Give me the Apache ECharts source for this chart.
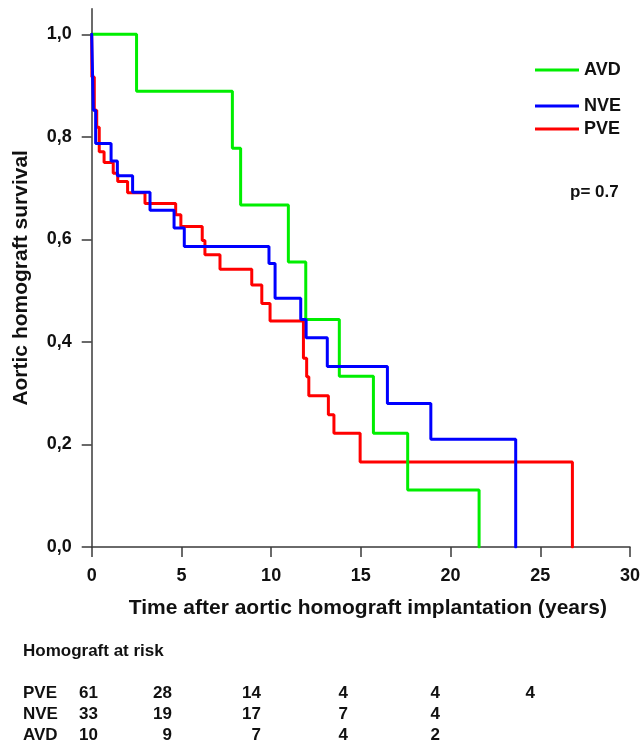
<!DOCTYPE html>
<html>
<head>
<meta charset="utf-8">
<script src="https://cdn.jsdelivr.net/npm/echarts@6/dist/echarts.min.js"></script>
<style>
  html, body { margin: 0; padding: 0; background: #fff; }
  #chart { width: 642px; height: 745px; }
</style>
</head>
<body>
<div id="chart"></div>
<script>
// Kaplan-Meier survival of aortic homografts by indication group
const seriesNames = ['AVD', 'NVE', 'PVE'];

const avdTimes = [0, 2.5, 7.84, 8.3, 10.96, 11.93, 13.8, 15.7, 17.61, 21.59];
const avdSurv  = [1, 0.889, 0.778, 0.667, 0.556, 0.444, 0.333, 0.222, 0.111, 0];

const nveTimes = [0, 0.09, 0.22, 1.08, 1.43, 2.28, 3.25, 4.59, 5.16, 9.88, 10.22, 11.65, 11.95, 13.13, 16.48, 18.9, 23.63];
const nveSurv  = [1, 0.852, 0.787, 0.753, 0.724, 0.692, 0.657, 0.622, 0.586, 0.553, 0.485, 0.444, 0.408, 0.352, 0.280, 0.210, 0];

const pveTimes = [0, 0.01, 0.145, 0.28, 0.42, 0.69, 1.2, 1.45, 2.0, 2.97, 4.68, 4.97, 6.16, 6.31, 7.15, 8.92, 9.48, 9.94, 11.8, 11.98, 12.1, 13.19, 13.5, 14.96, 26.79];
const pveSurv  = [1, 0.917, 0.852, 0.819, 0.771, 0.75, 0.729, 0.713, 0.691, 0.670, 0.648, 0.625, 0.598, 0.570, 0.542, 0.511, 0.475, 0.441, 0.368, 0.332, 0.295, 0.258, 0.222, 0.166, 0];

const yTickValues = [0, 0.2, 0.4, 0.6, 0.8, 1.0];
const pValueText = 'p= 0.7';

// Numbers at risk table
const riskTitle = 'Homograft at risk';
const riskGroups = ['PVE', 'NVE', 'AVD'];
const riskPVE = ['61', '28', '14', '4', '4', '4'];
const riskNVE = ['33', '19', '17', '7', '4'];
const riskAVD = ['10', '9', '7', '4', '2'];

const FONT = '"Liberation Sans", Arial, sans-serif';
const TEXT = '#111';
const AXIS = '#3a3a3a';

function pairs(t, s) { return t.map((v, i) => [v, s[i]]); }

const colors = { AVD: '#00ee00', NVE: '#0000ff', PVE: '#ff0000' };
const curves = { AVD: pairs(avdTimes, avdSurv), NVE: pairs(nveTimes, nveSurv), PVE: pairs(pveTimes, pveSurv) };
const zOrder = { PVE: 2, AVD: 3, NVE: 4 };

const series = seriesNames.map(name => ({
  name,
  type: 'line',
  step: 'end',
  data: curves[name],
  showSymbol: false,
  symbol: 'none',
  z: zOrder[name],
  color: colors[name],
  lineStyle: { color: colors[name], width: 3, cap: 'round' },
  animation: false
}));

// at-risk table text
const colRight = [98, 172, 261, 348, 440, 535];
const rowY = [693, 714, 735];
const tableRows = [riskPVE, riskNVE, riskAVD];
const tableFont = 'bold 17px ' + FONT;
const graphics = [
  { type: 'text', x: 570, y: 192, style: { text: pValueText, font: 'bold 17px ' + FONT, fill: TEXT, align: 'left', verticalAlign: 'middle', textAlign: 'left', textVerticalAlign: 'middle' } },
  { type: 'text', x: 23, y: 651, style: { text: riskTitle, font: tableFont, fill: TEXT, align: 'left', verticalAlign: 'middle', textAlign: 'left', textVerticalAlign: 'middle' } }
];
riskGroups.forEach((g, r) => {
  graphics.push({ type: 'text', x: 23, y: rowY[r], style: { text: g, font: tableFont, fill: TEXT, align: 'left', verticalAlign: 'middle', textAlign: 'left', textVerticalAlign: 'middle' } });
  tableRows[r].forEach((v, c) => {
    graphics.push({ type: 'text', x: colRight[c], y: rowY[r], style: { text: v, font: tableFont, fill: TEXT, align: 'right', verticalAlign: 'middle', textAlign: 'right', textVerticalAlign: 'middle' } });
  });
});

const legendText = { color: TEXT, fontFamily: FONT, fontWeight: 'bold', fontSize: 18 };

const option = {
  backgroundColor: '#fff',
  animation: false,
  grid: { left: 91.7, right: 12, top: 8.7, bottom: 198, containLabel: false, outerBoundsMode: 'none' },
  legend: [
    { data: ['AVD'], orient: 'vertical', left: 535, top: 61, icon: 'rect', itemWidth: 44, itemHeight: 3, itemGap: 5, selectedMode: false, textStyle: legendText, padding: 0 },
    { data: ['NVE', 'PVE'], orient: 'vertical', left: 535, top: 97, icon: 'rect', itemWidth: 44, itemHeight: 3, itemGap: 5, selectedMode: false, textStyle: legendText, padding: 0 }
  ],
  xAxis: {
    type: 'value', min: 0, max: 30, interval: 5,
    name: 'Time after aortic homograft implantation (years)',
    nameLocation: 'middle', nameGap: 51,
    nameTextStyle: { color: TEXT, fontFamily: FONT, fontWeight: 'bold', fontSize: 21, padding: [0, 0, 0, 14] },
    axisLine: { show: true, onZero: false, lineStyle: { color: AXIS, width: 1.5 } },
    axisTick: { show: true, length: 10, lineStyle: { color: AXIS, width: 1.5 } },
    axisLabel: { margin: 20, color: TEXT, fontFamily: FONT, fontWeight: 'bold', fontSize: 18 },
    splitLine: { show: false }
  },
  yAxis: {
    type: 'value', min: 0, max: 1.05,
    name: 'Aortic homograft survival',
    nameLocation: 'middle', nameGap: 60,
    nameTextStyle: { color: TEXT, fontFamily: FONT, fontWeight: 'bold', fontSize: 21 },
    axisLine: { show: true, onZero: false, lineStyle: { color: AXIS, width: 1.5 } },
    axisTick: { show: true, length: 10, customValues: yTickValues, lineStyle: { color: AXIS, width: 1.5 } },
    axisLabel: {
      margin: 20, color: TEXT, fontFamily: FONT, fontWeight: 'bold', fontSize: 18,
      customValues: yTickValues,
      formatter: v => v.toFixed(1).replace('.', ',')
    },
    splitLine: { show: false }
  },
  series,
  graphic: graphics
};

const chart = echarts.init(document.getElementById('chart'), null, { renderer: 'canvas' });
chart.setOption(option);
</script>
</body>
</html>
